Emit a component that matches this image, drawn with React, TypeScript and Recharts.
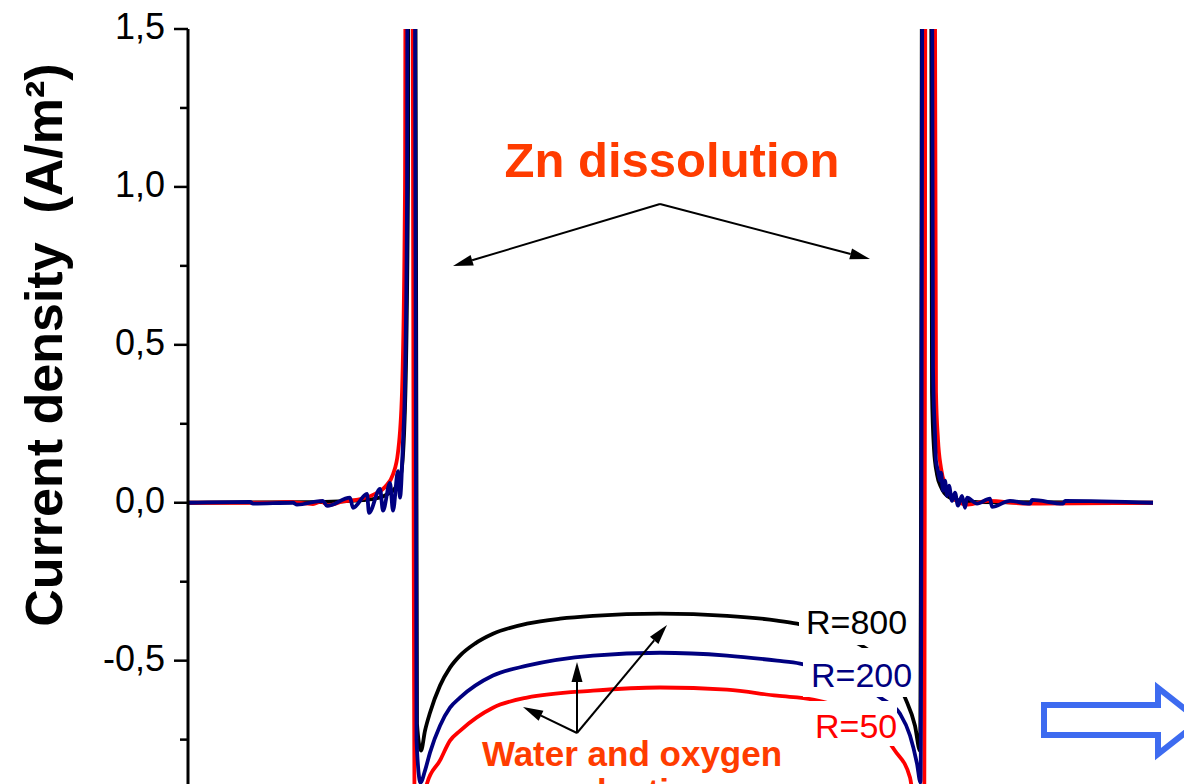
import { LineChart, Line, XAxis, YAxis } from "recharts";

// position along the sample (arbitrary units, 0..100) and current density (A/m²)
const r800X = [0, 12, 15, 17.5, 19.0, 20.0, 20.8, 21.3, 21.7, 22.0, 22.2, 22.9, 23.3, 23.7, 24.2, 25.2, 26.2, 27.2, 28.7, 30.5, 33.9, 37.2, 40.5, 47.2, 53.9, 58.9, 60.9, 64.2, 67.7, 70.2, 71.7, 72.7, 73.2, 73.8, 74.4, 74.6, 74.9, 75.3, 76.0, 77.0, 79.0, 96.5];
const r800Y = [0, 0.002, 0.004, 0.008, 0.015, 0.028, 0.05, 0.09, 0.3, 1.0, 10, -0.7, -0.785, -0.722, -0.665, -0.579, -0.522, -0.484, -0.446, -0.415, -0.383, -0.367, -0.358, -0.351, -0.358, -0.373, -0.383, -0.411, -0.459, -0.525, -0.617, -0.706, -0.785, 10, 0.35, 0.17, 0.09, 0.05, 0.02, 0.008, 0.002, 0];

const r200X = [0, 6.2, 6.5, 10.5, 10.9, 13.5, 13.9, 16.2, 16.5, 17.9, 18.1, 19.2, 19.5, 20.2, 20.5, 21.0, 21.2, 21.5, 21.7, 21.9, 22.15, 22.85, 23.25, 23.7, 24.2, 25.2, 26.2, 27.2, 30.5, 33.9, 40.5, 47.2, 53.9, 58.9, 61.2, 65.2, 69.5, 71.2, 72.2, 72.9, 73.25, 73.8, 74.5, 74.7, 74.8, 75.0, 75.2, 75.3, 75.5, 75.7, 75.9, 76.1, 76.4, 76.7, 77.0, 77.4, 77.7, 77.9, 78.9, 80.2, 80.4, 82.2, 84.2, 84.4, 87.5, 87.7, 96.5];
const r200Y = [0, 0.003, -0.003, 0, -0.006, 0.006, -0.01, 0.016, -0.016, 0.028, -0.032, 0.044, -0.025, 0.063, -0.025, 0.1, 0.016, 0.196, 0.386, 0.956, 10, -0.75, -0.886, -0.848, -0.791, -0.706, -0.649, -0.617, -0.547, -0.516, -0.484, -0.475, -0.484, -0.5, -0.509, -0.547, -0.623, -0.668, -0.737, -0.826, -0.886, 10, 0.427, 0.218, 0.133, 0.101, 0.07, 0.095, 0.038, 0.07, 0.022, 0.054, 0.006, 0.032, -0.009, 0.022, -0.016, 0.016, -0.003, 0.013, -0.013, 0.006, -0.003, 0.009, -0.003, 0.006, 0];

const r50X = [0, 8, 10, 12.5, 13.3, 14.0, 15.5, 17.0, 18.5, 19.7, 20.5, 21.0, 21.4, 21.7, 22.0, 22.7, 23.4, 23.9, 25.2, 26.2, 27.2, 30.5, 33.9, 40.5, 47.2, 53.9, 58.9, 62.5, 66.2, 69.2, 70.7, 72.2, 72.5, 73.6, 74.0, 74.8, 75.0, 75.3, 75.8, 76.5, 78.0, 80.0, 84.0, 96.5];
const r50Y = [0, 0, 0.003, -0.004, 0.004, -0.008, 0.004, 0.01, 0.025, 0.05, 0.09, 0.16, 0.35, 1.0, 10, -1.1, -1.0, -0.889, -0.816, -0.753, -0.722, -0.649, -0.617, -0.595, -0.585, -0.592, -0.611, -0.623, -0.658, -0.722, -0.785, -0.87, -0.93, -1.1, 10, 0.35, 0.2, 0.11, 0.05, 0.015, -0.006, 0.006, -0.003, 0];

const yTicks = [-0.75, -0.5, -0.25, 0, 0.25, 0.5, 0.75, 1, 1.25, 1.5];

const AXIS_X = 188;
const FONT = "'Liberation Sans', Arial, Helvetica, sans-serif";
const ORANGE = "#FF3C00";

const toPoints = (xs: number[], ys: number[]) => xs.map((x, i) => ({ x, v: ys[i] }));

const r800 = toPoints(r800X, r800Y);
const r200 = toPoints(r200X, r200Y);
const r50 = toPoints(r50X, r50Y);

const AxisTick = ({ y, payload }: any) => {
  const v = payload.value as number;
  const major = Math.abs(v * 2 - Math.round(v * 2)) < 1e-6;
  return (
    <g>
      <line x1={AXIS_X - (major ? 14 : 8)} x2={AXIS_X} y1={y} y2={y} stroke="#000" strokeWidth={2.5} />
      {major && (
        <text x={AXIS_X - 23} y={y + 10} textAnchor="end" fontSize={36} fontFamily={FONT} fill="#000">
          {v.toFixed(1).replace(".", ",")}
        </text>
      )}
    </g>
  );
};

const YLabel = () => (
  <text
    x={62}
    y={345}
    transform="rotate(-90, 62, 345)"
    textAnchor="middle"
    fontSize={52}
    fontWeight="bold"
    fontFamily={FONT}
    fill="#000"
  >
    Current density {"\u00a0"}(A/m²)
  </text>
);

const Arrow = ({ x1, y1, x2, y2 }: { x1: number; y1: number; x2: number; y2: number }) => {
  const a = Math.atan2(y2 - y1, x2 - x1);
  const L = 20;
  const W = 5.5;
  const bx = x2 - L * Math.cos(a);
  const by = y2 - L * Math.sin(a);
  const p1 = `${bx + W * Math.sin(a)},${by - W * Math.cos(a)}`;
  const p2 = `${bx - W * Math.sin(a)},${by + W * Math.cos(a)}`;
  return (
    <g>
      <line x1={x1} y1={y1} x2={bx} y2={by} stroke="#000" strokeWidth={2} />
      <polygon points={`${x2},${y2} ${p1} ${p2}`} fill="#000" />
    </g>
  );
};

const Annotations = () => (
  <svg width={1184} height={784} style={{ position: "absolute", left: 0, top: 0, pointerEvents: "none" }}>
    <text x={672} y={177} textAnchor="middle" fontSize={49} fontWeight="bold" fontFamily={FONT} fill={ORANGE}>
      Zn dissolution
    </text>
    <Arrow x1={660} y1={204} x2={453} y2={266} />
    <Arrow x1={660} y1={204} x2={870} y2={259} />

    <rect x={799} y={598} width={113} height={47} fill="#fff" />
    <rect x={803} y={648} width={108} height={49} fill="#fff" />
    <rect x={806} y={701} width={91} height={45} fill="#fff" />
    <text x={806} y={634} fontSize={34} fontFamily={FONT} fill="#000">R=800</text>
    <text x={811} y={687} fontSize={34} fontFamily={FONT} fill="#000080">R=200</text>
    <text x={815} y={738} fontSize={34} fontFamily={FONT} fill="#FF0000">R=50</text>

    <Arrow x1={577} y1={733} x2={523} y2={707} />
    <Arrow x1={577} y1={733} x2={577} y2={662} />
    <Arrow x1={577} y1={733} x2={667} y2={625} />
    <text x={632} y={766} textAnchor="middle" fontSize={35} fontWeight="bold" fontFamily={FONT} fill={ORANGE}>
      Water and oxygen
    </text>
    <text x={632} y={804} textAnchor="middle" fontSize={35} fontWeight="bold" fontFamily={FONT} fill={ORANGE}>
      reduction
    </text>

    <polygon
      points="1044,705 1158,705 1158,688 1200,721 1158,754 1158,735 1044,735"
      fill="#fff"
      stroke="#3D6BF0"
      strokeWidth={6}
    />
  </svg>
);

export default function App() {
  return (
    <div style={{ position: "absolute", left: 0, top: 0, width: 1184, height: 784, overflow: "hidden", background: "#fff" }}>
      <LineChart width={1200} height={800} margin={{ top: 29, right: 12, bottom: 13, left: 0 }}>
        <XAxis dataKey="x" type="number" domain={[0, 100]} allowDataOverflow hide />
        <YAxis
          type="number"
          domain={[-0.9, 1.5]}
          allowDataOverflow
          ticks={yTicks}
          interval={0}
          width={AXIS_X}
          tick={<AxisTick />}
          tickLine={false}
          tickSize={0}
          axisLine={{ stroke: "#000", strokeWidth: 3 }}
          label={{ content: () => <YLabel /> }}
        />
        <Line data={r800} dataKey="v" type="monotone" stroke="#000000" strokeWidth={3.8} strokeLinejoin="round" dot={false} isAnimationActive={false} />
        <Line data={r50} dataKey="v" type="monotone" stroke="#FF0000" strokeWidth={3.8} strokeLinejoin="round" dot={false} isAnimationActive={false} />
        <Line data={r200} dataKey="v" type="monotone" stroke="#000080" strokeWidth={3.8} strokeLinejoin="round" dot={false} isAnimationActive={false} />
      </LineChart>
      <Annotations />
    </div>
  );
}
